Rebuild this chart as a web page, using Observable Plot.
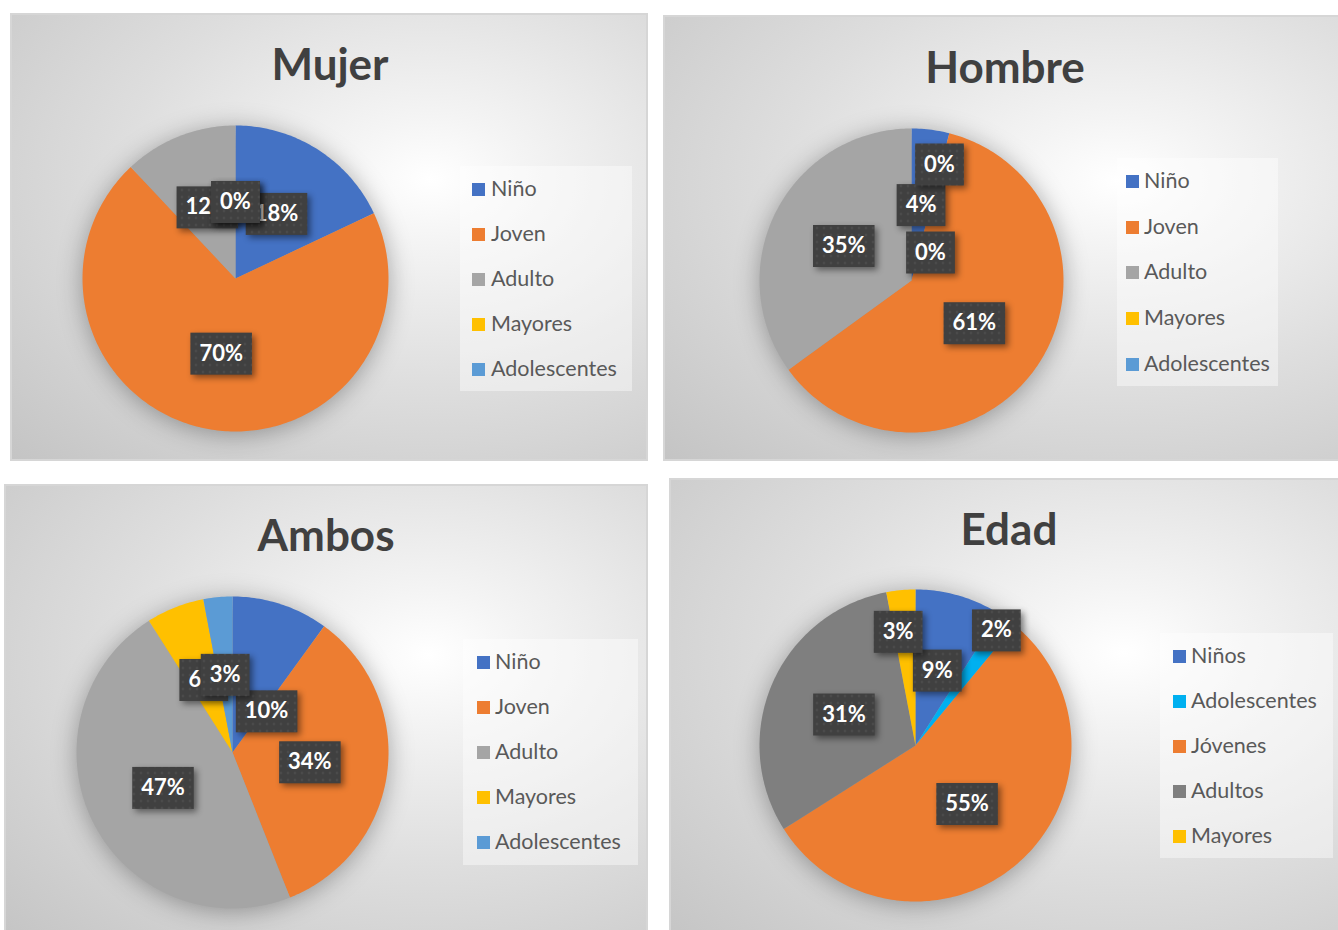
<!DOCTYPE html>
<html><head><meta charset="utf-8">
<script src="https://cdn.jsdelivr.net/npm/d3@7"></script>
<script src="https://cdn.jsdelivr.net/npm/@observablehq/plot@0.6"></script>
<style>
body{margin:0;background:#fff;width:1338px;height:930px;position:relative;overflow:hidden;font-family:Lato,"Open Sans",sans-serif}
.panel{position:absolute;box-sizing:border-box;border:2px solid #d6d6d6;background:radial-gradient(farthest-corner at 66% 37%, #ffffff 0%, #f4f4f4 16%, #dedede 52%, #c4c4c4 100%)}
.title{position:absolute;font-weight:bold;font-size:44px;color:#404040;white-space:nowrap;line-height:1;transform:translateX(-50%)}
.legend{position:absolute;background:rgba(255,255,255,0.42)}
.item{position:absolute;font-size:21.5px;color:#595959;white-space:nowrap;line-height:1}
.sw{position:absolute;width:13px;height:13px}
.pie{position:absolute}
.pie svg{overflow:visible}
</style>
</head><body>
<svg width="0" height="0" style="position:absolute">
  <defs>
    <pattern id="dots" width="7" height="7" patternUnits="userSpaceOnUse">
      <rect width="7" height="7" fill="#404040"></rect>
      <circle cx="3.5" cy="3.5" r="0.9" fill="#575757"></circle>
    </pattern>
  </defs>
</svg>
<script>
// ---- data ----
const titles = ["Mujer", "Hombre", "Ambos", "Edad"];
const groupCategories = ["Niño", "Joven", "Adulto", "Mayores", "Adolescentes"];
const mujerValues = [18, 70, 12, 0, 0];
const hombreValues = [4, 61, 35, 0, 0];
const ambosValues = [10, 34, 47, 6, 3];
const edadCategories = ["Niños", "Adolescentes", "Jóvenes", "Adultos", "Mayores"];
const edadValues = [9, 2, 55, 31, 3];

// ---- styles ----
const groupColors = ["#4472C4", "#ED7D31", "#A5A5A5", "#FFC000", "#5B9BD5"];
const edadColors = ["#4472C4", "#00B0F0", "#ED7D31", "#7F7F7F", "#FFC000"];
const FONT = "Lato, 'Open Sans', sans-serif";
const LEGEND_FS = 21.5;

// ---- layout (page pixels) ----
const layouts = [
  {frame: [10, 13, 638, 448], c: [235, 278], r: 153, title: [330, 80], legend: [460, 166, 172, 225], rows: [189, 234, 279, 324, 369], sw: 472, tx: 491, nudge: {}},
  {frame: [663, 15, 690, 446], c: [911, 280], r: 152, title: [1005, 83], legend: [1117, 158, 161, 228], rows: [181, 227, 272, 318, 364], sw: 1126, tx: 1144, nudge: {3: [28, -40], 4: [19, 48]}},
  {frame: [4, 484, 644, 460], c: [232, 752], r: 156, title: [326, 551], legend: [463, 639, 175, 226], rows: [662, 707, 752, 797, 842], sw: 477, tx: 495, nudge: {0: [10, 33]}},
  {frame: [669, 478, 690, 470], c: [915, 745], r: 156, title: [1009, 545], legend: [1160, 633, 173, 225], rows: [656, 701, 746, 791, 836], sw: 1173, tx: 1191, nudge: {1: [35, -52], 4: [-10, -36]}}
];
const series = [
  {cats: groupCategories, vals: mujerValues, colors: groupColors},
  {cats: groupCategories, vals: hombreValues, colors: groupColors},
  {cats: groupCategories, vals: ambosValues, colors: groupColors},
  {cats: edadCategories, vals: edadValues, colors: edadColors}
];

const canvas = document.createElement("canvas").getContext("2d");
function textWidth(s, font) { canvas.font = font; return canvas.measureText(s).width; }

function glow(index, scales, values, dims, context, next) {
  const g = next(index, scales, values, dims, context);
  g.style.filter = "drop-shadow(0px 3px 12px rgba(0,0,0,0.32))";
  return g;
}
function boxed(index, scales, values, dims, context, next) {
  const g = next(index, scales, values, dims, context);
  const texts = Array.from(g.querySelectorAll("text"));
  texts.forEach((t, k) => {
    const i = index[k];
    const x = values.x[i], y = values.y[i];
    const w = textWidth(t.textContent, `bold 22px ${FONT}`) + 18, h = 42;
    const rect = document.createElementNS("http://www.w3.org/2000/svg", "rect");
    rect.setAttribute("x", x - w / 2);
    rect.setAttribute("y", y - h / 2);
    rect.setAttribute("width", w);
    rect.setAttribute("height", h);
    rect.setAttribute("fill", "url(#dots)");
    rect.style.filter = "drop-shadow(3px 3px 3px rgba(0,0,0,0.45))";
    g.insertBefore(rect, t);
  });
  return g;
}

function el(tag, cls, css, text) {
  const e = document.createElement(tag);
  if (cls) e.className = cls;
  Object.assign(e.style, css);
  if (text != null) e.textContent = text;
  document.body.appendChild(e);
  return e;
}

layouts.forEach((L, p) => {
  const S = series[p];
  const [fx, fy, fw, fh] = L.frame;
  el("div", "panel", {left: fx + "px", top: fy + "px", width: fw + "px", height: fh + "px"});
  el("div", "title", {left: L.title[0] + "px", top: (L.title[1] - 0.887 * 44) + "px"}, titles[p]);

  const rows = S.cats.map((cat, i) => ({cat, value: S.vals[i], i}));
  const arcs = d3.pie().sort(null).value(d => d.value)(rows);
  const points = [];
  arcs.forEach(a => {
    const cat = a.data.cat;
    points.push({cat, x: 0, y: 0});
    const n = Math.max(1, Math.ceil((a.endAngle - a.startAngle) / (Math.PI / 180)));
    for (let k = 0; k <= n; k++) {
      const t = a.startAngle + (a.endAngle - a.startAngle) * k / n;
      points.push({cat, x: Math.sin(t), y: Math.cos(t)});
    }
  });
  const labels = arcs.map(a => {
    const m = (a.startAngle + a.endAngle) / 2;
    const nd = L.nudge[a.data.i] || [0, 0];
    return {
      cat: a.data.cat,
      x: 0.5 * Math.sin(m) + nd[0] / L.r,
      y: 0.5 * Math.cos(m) - nd[1] / L.r,
      label: Math.round(a.data.value) + "%"
    };
  });

  const M = 30;
  const chart = Plot.plot({
    width: 2 * (L.r + M), height: 2 * (L.r + M), margin: M,
    x: {domain: [-1, 1], axis: null},
    y: {domain: [-1, 1], axis: null},
    color: {domain: S.cats, range: S.colors},
    style: {background: "transparent", overflow: "visible"},
    marks: [
      Plot.line(points, {x: "x", y: "y", z: "cat", fill: "cat", stroke: "none", curve: "linear-closed", render: glow}),
      Plot.text(labels, {x: "x", y: "y", text: "label", fill: "white", fontSize: 22, fontWeight: "bold", fontFamily: FONT, render: boxed})
    ]
  });
  const wrap = el("div", "pie", {left: (L.c[0] - L.r - M) + "px", top: (L.c[1] - L.r - M) + "px"});
  wrap.appendChild(chart);

  const [lx, ly, lw, lh] = L.legend;
  el("div", "legend", {left: lx + "px", top: ly + "px", width: lw + "px", height: lh + "px"});
  S.cats.forEach((cat, i) => {
    el("div", "sw", {left: L.sw + "px", top: (L.rows[i] - 6.5) + "px", background: S.colors[i]});
    el("div", "item", {left: L.tx + "px", top: (L.rows[i] - 0.527 * LEGEND_FS) + "px"}, cat);
  });
});
</script>
</body></html>
